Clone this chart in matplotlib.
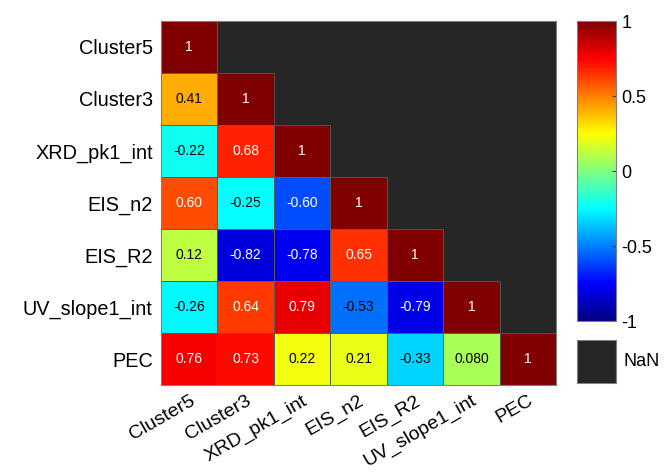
import numpy as np
import matplotlib
matplotlib.use("Agg")
import matplotlib.pyplot as plt
from matplotlib.colors import Normalize, LinearSegmentedColormap
import matplotlib.patches as mpatches

plt.rcParams['font.family'] = ['Liberation Sans', 'DejaVu Sans']

# variable names (rows top to bottom, cols left to right)
labels = ["Cluster5", "Cluster3", "XRD_pk1_int", "EIS_n2", "EIS_R2",
          "UV_slope1_int", "PEC"]

# lower triangle of the correlation matrix, row by row
row_cluster5 = [1]
row_cluster3 = [0.41, 1]
row_xrd = [-0.22, 0.68, 1]
row_eis_n2 = [0.60, -0.25, -0.60, 1]
row_eis_r2 = [0.12, -0.82, -0.78, 0.65, 1]
row_uv = [-0.26, 0.64, 0.79, -0.53, -0.79, 1]
row_pec = [0.76, 0.73, 0.22, 0.21, -0.33, 0.080, 1]
rows = [row_cluster5, row_cluster3, row_xrd, row_eis_n2, row_eis_r2, row_uv, row_pec]

n = len(labels)
corr = np.full((n, n), np.nan)
for i, r in enumerate(rows):
    corr[i, :len(r)] = r
data = np.ma.masked_invalid(corr)

# matlab style jet
mjet = LinearSegmentedColormap('mjet', {
    'red':   [(0, 0, 0), (3/8, 0, 0), (5/8, 1, 1), (7/8, 1, 1), (1, 0.5, 0.5)],
    'green': [(0, 0, 0), (1/8, 0, 0), (3/8, 1, 1), (5/8, 1, 1), (7/8, 0, 0), (1, 0, 0)],
    'blue':  [(0, 0.5, 0.5), (1/8, 1, 1), (3/8, 1, 1), (5/8, 0, 0), (1, 0, 0)],
}, N=256)

fig = plt.figure(figsize=(6.64, 4.76), dpi=100)
ax = fig.add_axes([0.2425, 0.191, 0.595, 0.765])
ax.set_facecolor('#262626')

norm = Normalize(-1, 1)
mesh = ax.pcolormesh(data, cmap=mjet, norm=norm)
ax.set_xlim(0, n)
ax.set_ylim(n, 0)

def fmt(v):
    if v == 1:
        return "1"
    return "%#.2g" % v

for i in range(n):
    for j in range(n):
        v = corr[i, j]
        if np.isnan(v):
            continue
        # cell outline only where there is data
        ax.add_patch(mpatches.Rectangle((j, i), 1, 1, fill=False,
                                        edgecolor='#5a5a5a', linewidth=0.6))
        col = 'white' if (v > 0.5 or v < -0.55) else 'black'
        ax.text(j + 0.5, i + 0.5, fmt(v), ha='center', va='center',
                fontsize=10, color=col)

ax.set_xticks(np.arange(n) + 0.5)
ax.set_yticks(np.arange(n) + 0.5)
ax.set_xticklabels(labels, rotation=30, ha='right', rotation_mode='anchor', fontsize=14)
ax.set_yticklabels(labels, fontsize=14.3)
ax.tick_params(axis='x', length=0, pad=5)
ax.tick_params(axis='y', length=0, pad=6)
for s in ax.spines.values():
    s.set_color('#808080')
    s.set_linewidth(0.8)

# colorbar
cax = fig.add_axes([0.869, 0.3256, 0.0587, 0.630])
cb = fig.colorbar(mesh, cax=cax, ticks=[-1, -0.5, 0, 0.5, 1])
cb.ax.set_yticklabels(["-1", "-0.5", "0", "0.5", "1"])
cb.ax.tick_params(direction='in', length=3, labelsize=13, color='#404040', pad=4)
cb.outline.set_edgecolor('#808080')
cb.outline.set_linewidth(0.8)

# NaN swatch
nax = fig.add_axes([0.869, 0.195, 0.0587, 0.090])
nax.set_facecolor('#262626')
nax.set_xticks([])
nax.set_yticks([])
for s in nax.spines.values():
    s.set_color('#808080')
    s.set_linewidth(0.8)
nax.text(1.2, 0.5, "NaN", transform=nax.transAxes, ha='left', va='center', fontsize=13)

fig.savefig("out.png", dpi=100)
